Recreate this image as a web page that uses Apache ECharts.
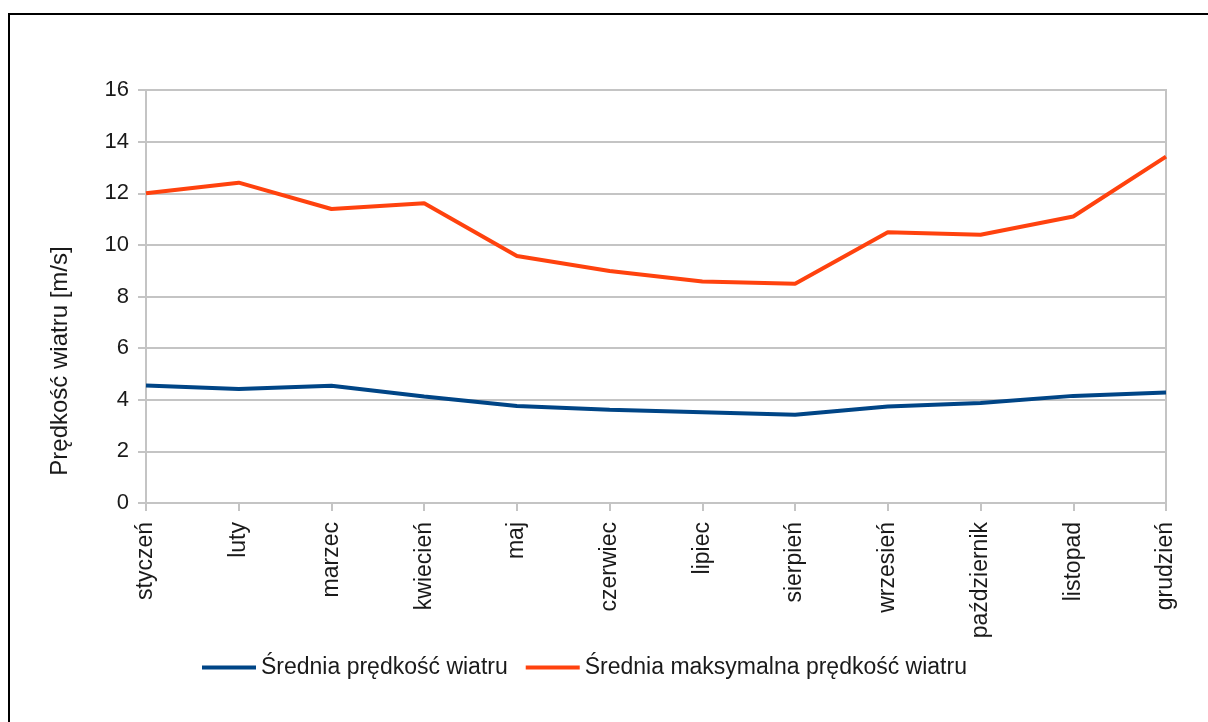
<!DOCTYPE html>
<html>
<head>
<meta charset="utf-8">
<script src="https://cdn.jsdelivr.net/npm/echarts@6/dist/echarts.min.js"></script>
<style>
html,body{margin:0;padding:0;background:#fff;}
#chart{width:1208px;height:722px;}
</style>
</head>
<body>
<div id="chart"></div>
<script>
const months = ['styczeń','luty','marzec','kwiecień','maj','czerwiec','lipiec','sierpień','wrzesień','październik','listopad','grudzień'];
const sredniaPredkosc = [4.55, 4.42, 4.54, 4.13, 3.76, 3.61, 3.52, 3.42, 3.74, 3.87, 4.15, 4.28];
const sredniaMaksymalna = [12.0, 12.41, 11.39, 11.61, 9.57, 8.99, 8.58, 8.49, 10.49, 10.39, 11.10, 13.42];
const seriesNames = ['Średnia prędkość wiatru', 'Średnia maksymalna prędkość wiatru'];
const yTitle = 'Prędkość wiatru [m/s]';

const font = '"Liberation Sans", Arial, sans-serif';
const textColor = '#1a1a1a';
const gridColor = '#c4c4c4';

const chart = echarts.init(document.getElementById('chart'), null, {renderer: 'canvas'});
chart.setOption({
  backgroundColor: '#ffffff',
  animation: false,
  textStyle: {fontFamily: font, color: textColor},
  grid: {left: 146, right: 42, top: 90, bottom: 219, show: true, borderColor: gridColor, borderWidth: 2, backgroundColor: 'transparent'},
  legend: {
    left: 197, top: 651,
    itemWidth: 54, itemHeight: 4, itemGap: 18,
    icon: 'rect',
    textStyle: {fontFamily: font, fontSize: 23, color: textColor, padding: [0, 0, 0, 0]},
    data: seriesNames
  },
  xAxis: {
    type: 'category',
    data: months,
    boundaryGap: false,
    axisLine: {lineStyle: {color: gridColor, width: 2}},
    axisTick: {show: true, length: 8, lineStyle: {color: gridColor, width: 2}},
    splitLine: {show: false},
    axisLabel: {rotate: 90, margin: 19, fontSize: 23, color: textColor, fontFamily: font, interval: 0}
  },
  yAxis: {
    type: 'value',
    min: 0, max: 16, interval: 2,
    axisLine: {show: true, lineStyle: {color: gridColor, width: 2}},
    axisTick: {show: true, length: 8, lineStyle: {color: gridColor, width: 2}},
    splitLine: {show: true, lineStyle: {color: gridColor, width: 2}},
    axisLabel: {margin: 17, fontSize: 22, color: textColor, fontFamily: font}
  },
  graphic: [
    {type: 'rect', shape: {x: 9, y: 14, width: 1300, height: 800}, style: {fill: 'none', stroke: '#000', lineWidth: 2}, silent: true, z: 100},
    {type: 'text', x: 60, y: 361, rotation: Math.PI / 2,
     style: {text: yTitle, font: '24px ' + font, fill: textColor, textAlign: 'center', textVerticalAlign: 'middle'}}
  ],
  series: [
    {name: seriesNames[0], type: 'line', data: sredniaPredkosc, showSymbol: false, symbol: 'none',
     lineStyle: {color: '#004586', width: 4}, itemStyle: {color: '#004586'}},
    {name: seriesNames[1], type: 'line', data: sredniaMaksymalna, showSymbol: false, symbol: 'none',
     lineStyle: {color: '#ff420e', width: 4}, itemStyle: {color: '#ff420e'}}
  ]
});
</script>
</body>
</html>
